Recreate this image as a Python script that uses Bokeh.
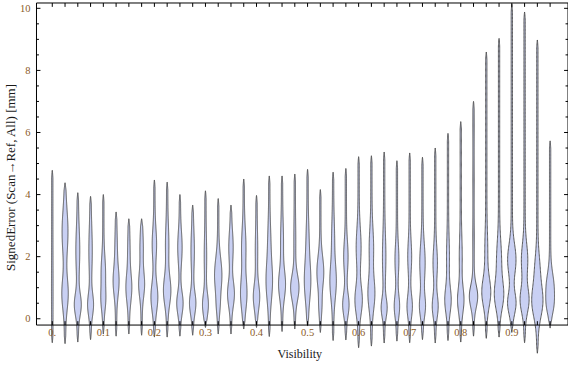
import numpy as np
from bokeh.plotting import figure
from bokeh.models import Range1d, Label, LabelSet, ColumnDataSource
from bokeh.core.properties import value
from bokeh.embed import file_html
from bokeh.resources import INLINE

# ---------------- data ----------------
visibility = [0.000, 0.025, 0.050, 0.075, 0.100, 0.125, 0.150, 0.175, 0.200, 0.225,
              0.250, 0.275, 0.300, 0.325, 0.350, 0.375, 0.400, 0.425, 0.450, 0.475,
              0.500, 0.525, 0.550, 0.575, 0.600, 0.625, 0.650, 0.675, 0.700, 0.725,
              0.750, 0.775, 0.800, 0.825, 0.850, 0.875, 0.900, 0.925, 0.950, 0.975]
err_min = [-0.77, -0.80, -0.75, -0.67, -0.49, -0.56, -0.49, -0.53, -0.59, -0.59,
           -0.56, -0.53, -0.28, -0.49, -0.49, -0.33, -0.28, -0.57, -0.41, -0.33,
           -0.23, -0.44, -0.70, -0.68, -0.93, -0.88, -0.78, -0.72, -0.77, -0.67,
           -0.78, -0.70, -0.75, -0.56, -0.63, -0.59, -0.44, -0.77, -1.11, -0.30]
err_max = [4.78, 4.38, 4.06, 3.94, 4.00, 3.44, 3.22, 3.22, 4.47, 4.40,
           4.00, 3.66, 4.12, 3.87, 3.66, 4.50, 3.97, 4.60, 4.60, 4.66,
           4.81, 4.16, 4.72, 4.84, 5.22, 5.25, 5.37, 5.09, 5.34, 5.20,
           5.50, 5.97, 6.35, 7.00, 8.59, 9.03, 10.13, 9.88, 8.98, 5.73]
# main density bump (centre, full width in px, spread)
mode1 = [1.0, 0.8, 0.45, 0.45, 0.6, 1.2, 1.0, 1.1, 0.7, 0.9,
         0.5, 0.5, 0.45, 1.4, 0.8, 0.8, 0.7, 1.2, 1.1, 1.0,
         1.2, 1.5, 1.2, 0.45, 0.6, 0.8, 0.35, 0.4, 0.4, 0.4,
         0.4, 0.6, 0.6, 0.72, 0.85, 0.75, 0.5, 0.6, 0.55, 1.0]
width1 = [1.6, 6.5, 7.0, 6.0, 4.5, 6.0, 6.0, 6.0, 7.0, 7.5,
          6.5, 6.5, 6.0, 7.5, 7.0, 6.5, 6.5, 6.5, 7.0, 8.5,
          6.5, 7.0, 6.5, 6.5, 7.5, 7.0, 6.0, 5.5, 5.5, 6.0,
          6.0, 6.5, 6.5, 8.5, 9.0, 9.0, 8.5, 9.0, 11.0, 8.0]
spread1 = [1.0, 0.5, 0.35, 0.35, 0.35, 0.45, 0.45, 0.4, 0.45, 0.45,
           0.35, 0.35, 0.35, 0.55, 0.4, 0.5, 0.4, 0.6, 0.45, 0.4,
           0.6, 0.5, 0.55, 0.35, 0.45, 0.5, 0.3, 0.35, 0.35, 0.35,
           0.35, 0.4, 0.4, 0.35, 0.45, 0.45, 0.35, 0.4, 0.5, 0.45]
# secondary density bump
mode2 = [3.0, 2.8, 2.2, 2.2, 1.5, 2.3, 2.2, 2.3, 2.4, 2.4,
         2.3, 2.2, 2.0, 0.4, 2.3, 2.3, 2.2, 2.5, 2.5, 2.5,
         2.5, 0.4, 2.6, 2.0, 2.3, 2.3, 2.0, 1.9, 2.0, 1.8,
         1.8, 2.0, 2.0, 2.2, 2.2, 1.9, 1.9, 1.9, 1.6, 0.4]
width2 = [1.2, 6.0, 4.0, 3.5, 4.5, 2.5, 2.5, 3.5, 4.5, 3.5,
          4.5, 3.5, 2.5, 3.0, 4.5, 4.5, 2.5, 3.0, 3.0, 2.0,
          3.0, 3.0, 3.0, 4.5, 5.0, 4.5, 3.5, 4.0, 4.0, 5.5,
          4.5, 3.0, 3.0, 1.5, 3.0, 5.0, 8.5, 6.5, 5.0, 5.0]
spread2 = [1.0, 0.7, 0.7, 0.7, 0.5, 0.5, 0.5, 0.5, 0.5, 0.6,
           0.5, 0.6, 0.6, 0.3, 0.5, 0.6, 0.6, 0.6, 0.6, 0.6,
           0.6, 0.3, 0.6, 0.5, 0.6, 0.6, 0.7, 0.5, 0.5, 0.6,
           0.5, 0.6, 0.6, 0.6, 0.6, 0.6, 0.5, 0.5, 0.5, 0.3]

y_ticks = [0, 2, 4, 6, 8, 10]
y_tick_labels = ["0", "2", "4", "6", "8", "10"]
x_ticks = [0.0, 0.1, 0.2, 0.3, 0.4, 0.5, 0.6, 0.7, 0.8, 0.9]
x_tick_labels = ["0.", "0.1", "0.2", "0.3", "0.4", "0.5", "0.6", "0.7", "0.8", "0.9"]

# ---------------- layout helpers (reference-image pixels) ----------------
X0, SX = 52.5, 517.8     # ref x of visibility 0, px per unit
Y0, SY = 331.0, 32.0     # ref y of error 0, px per unit
def dx(px):
    return px / SX
def xv(ref_x):
    return (ref_x - X0) / SX
def yv(ref_y):
    return (Y0 - ref_y) / SY

W, H = 568, 361
fy = 357.0 / 368.0
ref_top = 5 - 2 / fy
ref_bot = 5 + (H - 2) / fy

p = figure(width=W, height=H, output_backend="svg", toolbar_location=None, title=None,
           x_range=Range1d(xv(0), xv(576)), y_range=Range1d(yv(ref_bot), yv(ref_top)),
           min_border_left=0, min_border_right=0, min_border_top=0, min_border_bottom=0)
p.xaxis.visible = False
p.yaxis.visible = False
p.grid.visible = False
p.outline_line_color = None
p.background_fill_color = "white"
p.border_fill_color = "white"

# ---------------- violins ----------------
xs_all, ys_all = [], []
for i, v in enumerate(visibility):
    lo, hi = err_min[i], err_max[i]
    y = np.linspace(lo, hi, 240)
    tail = 0.65
    b1 = max(width1[i] / 2 - tail, 0) * np.exp(-0.5 * ((y - mode1[i]) / spread1[i]) ** 2)
    b2 = max(width2[i] / 2 - tail, 0) * np.exp(-0.5 * ((y - mode2[i]) / spread2[i]) ** 2)
    hw = tail + b1 + b2
    taper = np.clip((y - lo) / 0.25, 0, 1) ** 0.7 * np.clip((hi - y) / 0.25, 0, 1) ** 0.7
    hw = dx(hw * np.maximum(taper, 0.05))
    xs_all.append(np.concatenate([v - hw, (v + hw)[::-1]]))
    ys_all.append(np.concatenate([y, y[::-1]]))
p.patches(xs_all, ys_all, fill_color="#c9d0f3", line_color="#4a4a4a", line_width=1.0, line_alpha=0.9)

# ---------------- frame ----------------
xl, xr = xv(36.5), xv(575.5)
yt, yb = yv(5.5), yv(337.5)
p.segment(x0=[xl, xl, xr, xl], y0=[yb, yt, yb, yb], x1=[xl, xr, xr, xr], y1=[yt, yt, yt, yb],
          line_color="black", line_width=1)

# top / bottom ticks at each visibility bin
n = len(visibility)
p.segment(x0=visibility, y0=[yt] * n, x1=visibility, y1=[yt - 4 / SY] * n, line_color="black", line_width=1)
p.segment(x0=visibility, y0=[yb] * n, x1=visibility, y1=[yb + 4 / SY] * n, line_color="black", line_width=1)
# left / right ticks
minor = [k * 0.5 for k in range(21)]
lens = [4 if (m % 2 == 0) else 2.5 for m in minor]
p.segment(x0=[xl] * len(minor), y0=minor, x1=[xl + dx(L) for L in lens], y1=minor,
          line_color="black", line_width=1)
p.segment(x0=[xr] * len(minor), y0=minor, x1=[xr - dx(L) for L in lens], y1=minor,
          line_color="black", line_width=1)

# ---------------- texts ----------------
tick_color = "#8b5a1f"
ysrc = ColumnDataSource(dict(x=[xv(30.5)] * len(y_ticks), y=y_ticks, t=y_tick_labels))
p.add_layout(LabelSet(x="x", y="y", text="t", source=ysrc, text_align="right", text_baseline="middle",
                      text_font=value("Liberation Serif"), text_font_size="10.5px", text_color=tick_color))
xsrc = ColumnDataSource(dict(x=x_ticks, y=[yv(344.7)] * len(x_ticks), t=x_tick_labels))
p.add_layout(LabelSet(x="x", y="y", text="t", source=xsrc, text_align="center", text_baseline="middle",
                      text_font=value("Liberation Serif"), text_font_size="10.5px", text_color=tick_color))

p.add_layout(Label(x=xv(303.5), y=yv(367), text="Visibility", text_align="center", text_baseline="middle",
                   text_font="Liberation Serif", text_font_size="12px", text_color="#1a1a1a"))
p.add_layout(Label(x=xv(10), y=yv(185), text="SignedError (Scan\u2192Ref, All) [mm]", angle=np.pi / 2,
                   text_align="center", text_baseline="middle",
                   text_font="Liberation Serif", text_font_size="13px", text_color="#1a1a1a"))

open("out.html", "w").write(file_html(p, INLINE))
